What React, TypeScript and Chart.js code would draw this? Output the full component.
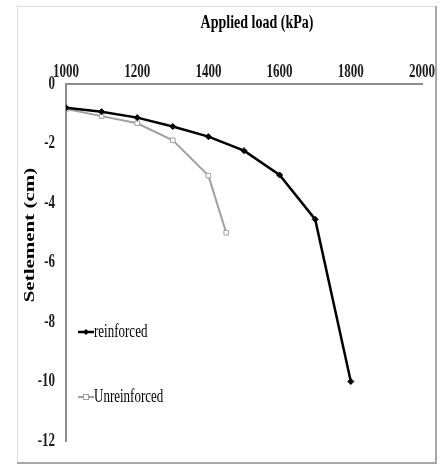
import React, { useEffect, useRef } from "react";
import { Chart, registerables } from "chart.js";

Chart.register(...registerables);

// Applied load (kPa) at each reading
const reinforcedLoad = [1000, 1100, 1200, 1300, 1400, 1500, 1600, 1700, 1800];
const reinforcedSettlement = [-0.8, -0.93, -1.13, -1.43, -1.77, -2.24, -3.06, -4.55, -10.0];

const unreinforcedLoad = [1000, 1100, 1200, 1300, 1400, 1450];
const unreinforcedSettlement = [-0.84, -1.08, -1.32, -1.89, -3.08, -5.0];

const xTitle = "Applied load (kPa)";
const yTitle = "Setlement (cm)";
const seriesNames = ["reinforced", "Unreinforced"];

const SERIF = '"Liberation Serif", "Times New Roman", serif';
const STRETCH = 1.4; // text is drawn tall and narrow

function tallText(
  ctx: CanvasRenderingContext2D,
  text: string,
  x: number,
  y: number,
  font: string,
  align: CanvasTextAlign,
  color: string,
  rotate = 0
) {
  ctx.save();
  ctx.translate(x, y);
  if (rotate) ctx.rotate(rotate);
  if (rotate) ctx.scale(STRETCH, 1);
  else ctx.scale(1, STRETCH);
  ctx.font = font;
  ctx.fillStyle = color;
  ctx.textAlign = align;
  ctx.textBaseline = "middle";
  ctx.fillText(text, 0, 0);
  ctx.restore();
}

const decorPlugin = {
  id: "decor",
  beforeDraw(chart: any) {
    const ctx = chart.ctx as CanvasRenderingContext2D;
    ctx.save();
    ctx.fillStyle = "#ffffff";
    ctx.fillRect(0, 0, chart.width, chart.height);
    // frame
    ctx.strokeStyle = "#dcdcdc";
    ctx.lineWidth = 1;
    ctx.beginPath();
    ctx.moveTo(17.5, 462);
    ctx.lineTo(17.5, 6.5);
    ctx.lineTo(435, 6.5);
    ctx.stroke();
    ctx.strokeStyle = "#a8a8a8";
    ctx.lineWidth = 2;
    ctx.beginPath();
    ctx.moveTo(436, 6);
    ctx.lineTo(436, 463);
    ctx.lineTo(17, 463);
    ctx.stroke();
    ctx.restore();
  },
  afterDraw(chart: any) {
    const ctx = chart.ctx as CanvasRenderingContext2D;
    const xs = chart.scales.x;
    const ys = chart.scales.y;
    const tickFont = `bold 13px ${SERIF}`;

    xs.ticks.forEach((t: any) => {
      tallText(ctx, String(t.value), xs.getPixelForValue(t.value), 72, tickFont, "center", "#1a1a1a");
    });
    ys.ticks.forEach((t: any) => {
      tallText(ctx, String(t.value), 55, ys.getPixelForValue(t.value), tickFont, "right", "#1a1a1a");
    });

    tallText(ctx, xTitle, 257, 23, `bold 14px ${SERIF}`, "center", "#000");
    tallText(ctx, yTitle, 30, 235, `bold 15px ${SERIF}`, "center", "#000", -Math.PI / 2);

    // legend entries inside the plot
    const entries = [
      { name: seriesNames[0], y: 332, color: "#000000", ds: 0 },
      { name: seriesNames[1], y: 397, color: "#a0a0a0", ds: 1 },
    ];
    entries.forEach((e) => {
      ctx.save();
      ctx.strokeStyle = e.color;
      ctx.lineWidth = e.ds === 0 ? 2.5 : 2;
      ctx.beginPath();
      ctx.moveTo(78, e.y);
      ctx.lineTo(94, e.y);
      ctx.stroke();
      if (e.ds === 0) {
        ctx.fillStyle = e.color;
        ctx.beginPath();
        ctx.moveTo(86, e.y - 3);
        ctx.lineTo(89, e.y);
        ctx.lineTo(86, e.y + 3);
        ctx.lineTo(83, e.y);
        ctx.closePath();
        ctx.fill();
      } else {
        ctx.fillStyle = "#fff";
        ctx.lineWidth = 1;
        ctx.fillRect(83.5, e.y - 2.5, 5, 5);
        ctx.strokeRect(83.5, e.y - 2.5, 5, 5);
      }
      ctx.restore();
      tallText(ctx, e.name, 94, e.y, `13px ${SERIF}`, "left", "#000");
    });
  },
};

export default function App() {
  const ref = useRef<HTMLCanvasElement | null>(null);

  useEffect(() => {
    document.body.style.margin = "0";
    const canvas = ref.current;
    if (!canvas) return;
    const chart = new Chart(canvas, {
      type: "line",
      data: {
        datasets: [
          {
            label: seriesNames[0],
            data: reinforcedLoad.map((x, i) => ({ x, y: reinforcedSettlement[i] })),
            borderColor: "#000000",
            backgroundColor: "#000000",
            borderWidth: 2.5,
            pointStyle: "rectRot",
            pointRadius: 3,
            pointBorderWidth: 1,
            pointBackgroundColor: "#000000",
            pointBorderColor: "#000000",
            tension: 0,
          },
          {
            label: seriesNames[1],
            data: unreinforcedLoad.map((x, i) => ({ x, y: unreinforcedSettlement[i] })),
            borderColor: "#a0a0a0",
            backgroundColor: "#ffffff",
            borderWidth: 2,
            pointStyle: "rect",
            pointRadius: 3.2,
            pointBorderWidth: 1,
            pointBackgroundColor: "#ffffff",
            pointBorderColor: "#a0a0a0",
            tension: 0,
          },
        ],
      },
      options: {
        responsive: false,
        animation: false,
        layout: { padding: { left: 0, top: 0, right: 24, bottom: 25 } },
        plugins: {
          legend: { display: false },
          tooltip: { enabled: false },
        },
        scales: {
          x: {
            type: "linear",
            position: "top",
            min: 1000,
            max: 2000,
            ticks: { display: false, stepSize: 200 },
            grid: { display: false, drawTicks: false },
            border: { display: true, color: "#8c8c8c", width: 2 },
            afterFit: (s: any) => {
              s.height = 84;
            },
          },
          y: {
            type: "linear",
            position: "left",
            min: -12,
            max: 0,
            ticks: { display: false, stepSize: 2 },
            grid: { display: false, drawTicks: false },
            border: { display: true, color: "#8c8c8c", width: 2 },
            afterFit: (s: any) => {
              s.width = 66;
            },
          },
        },
      },
      plugins: [decorPlugin],
    });
    return () => chart.destroy();
  }, []);

  return (
    <div style={{ position: "fixed", left: 0, top: 0, width: 446, height: 466 }}>
      <canvas ref={ref} width={446} height={466} />
    </div>
  );
}
